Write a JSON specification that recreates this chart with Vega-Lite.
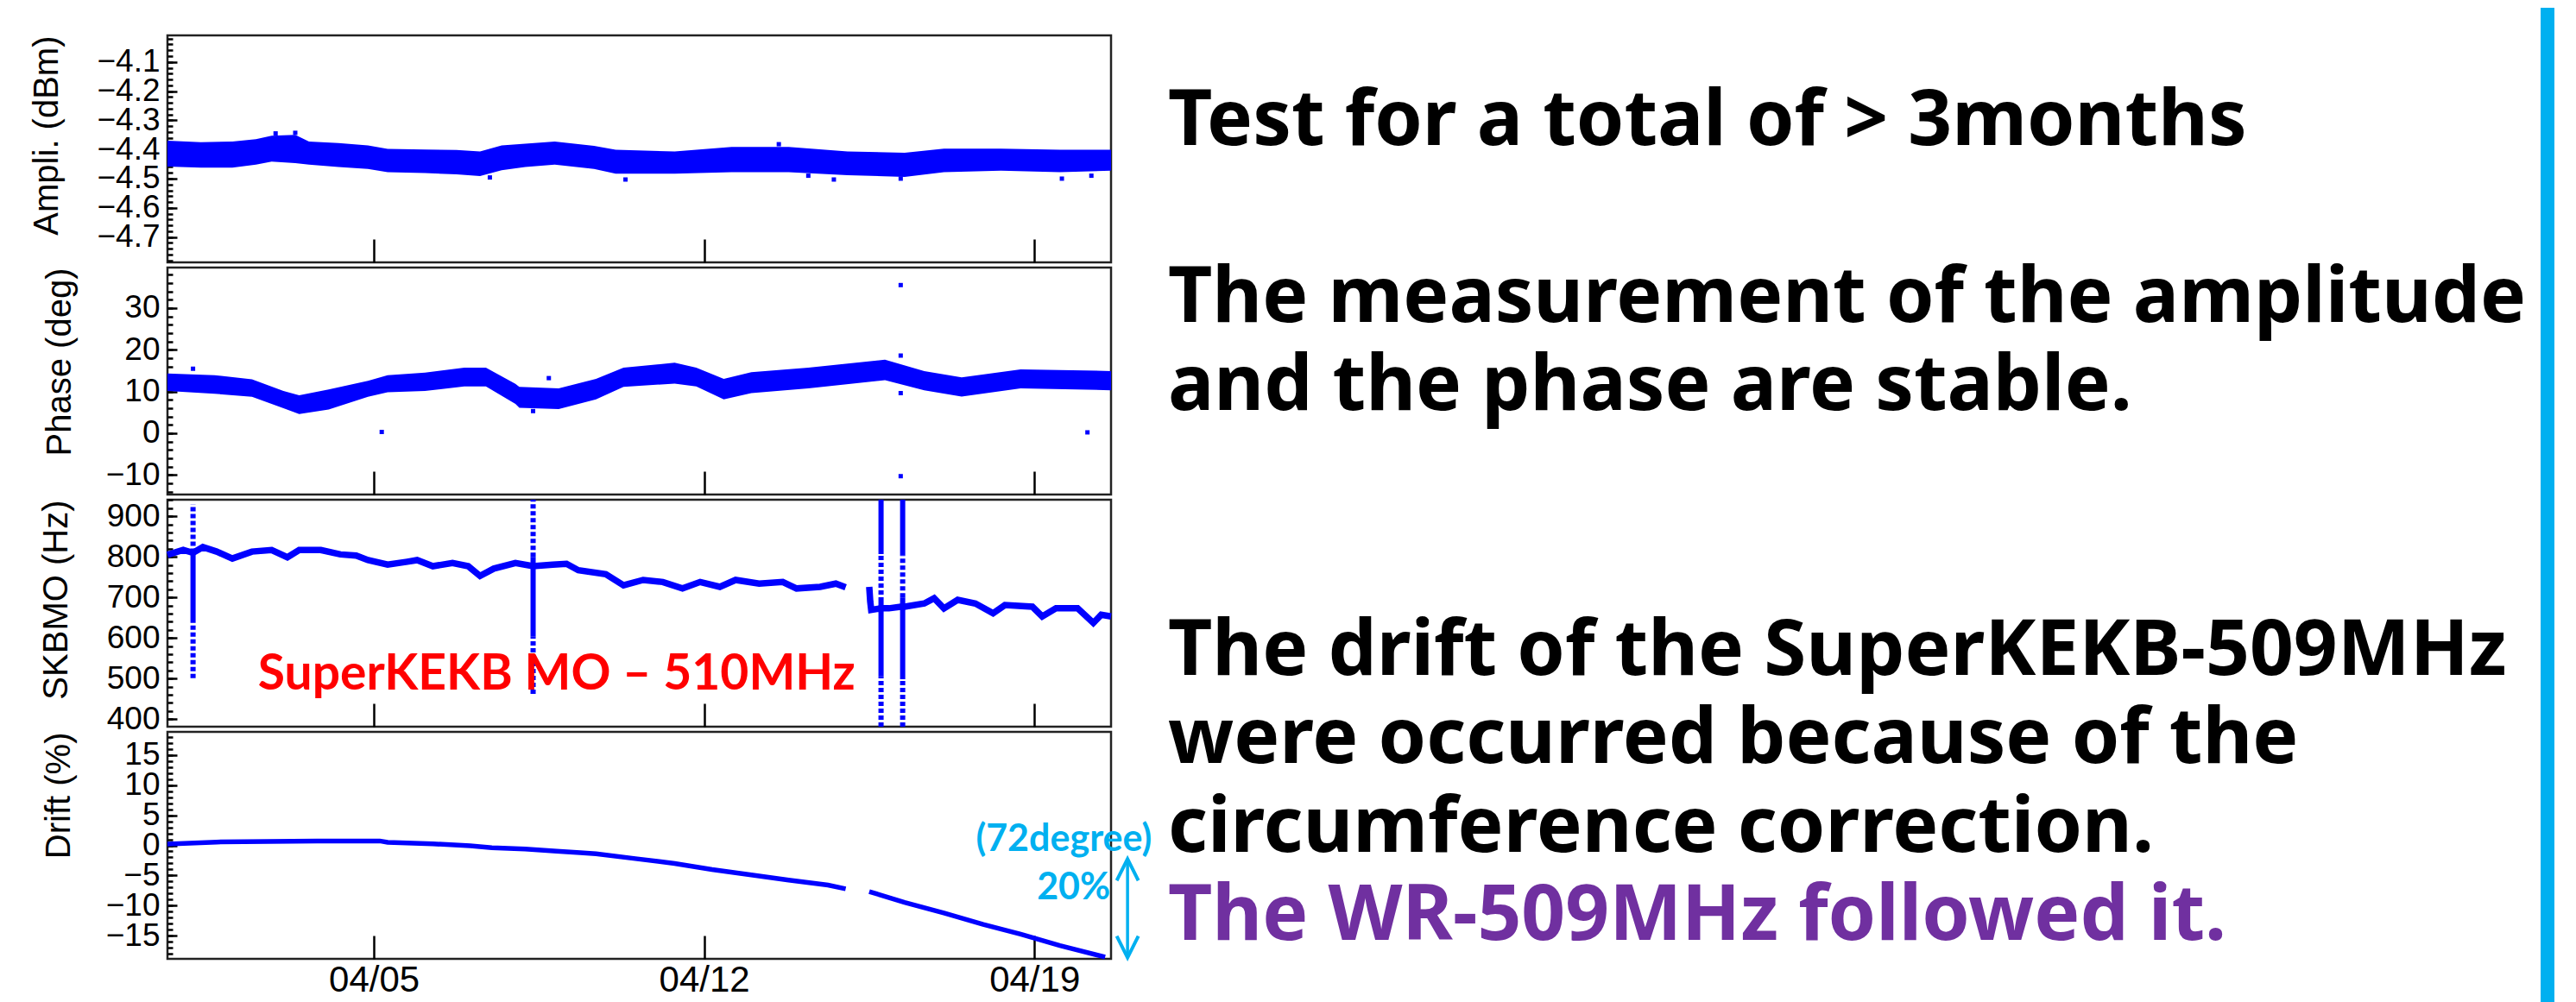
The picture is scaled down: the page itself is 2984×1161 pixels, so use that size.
{
  "$schema": "https://vega.github.io/schema/vega-lite/v6.json",
  "background": "white",
  "padding": {"left": 32, "top": 0, "right": 27, "bottom": 0},
  "bounds": "flush",
  "spacing": 1159,
  "config": {
    "view": {"stroke": "#222222", "strokeWidth": 2.5},
    "axis": {
      "domain": false, "grid": false, "tickColor": "#000000", "tickWidth": 2.5,
      "labelFont": "Liberation Sans", "labelFontSize": 37, "labelColor": "#000000", "labelOverlap": false,
      "titleFont": "Liberation Sans", "titleFontSize": 40, "titleFontWeight": "normal", "titleColor": "#000000"
    },
    "axisX": {"tickSize": -27, "labelPadding": 31, "labelFlush": false},
    "axisY": {"tickSize": -11, "labelPadding": 20, "titleAnchor": "end", "titleBaseline": "middle"}
  },
  "datasets": {
    "amp": [
      {"t": "2016-03-31T15:00", "lo": -4.459, "hi": -4.370},
      {"t": "2016-04-01T08:00", "lo": -4.462, "hi": -4.375},
      {"t": "2016-04-02T00:00", "lo": -4.462, "hi": -4.373},
      {"t": "2016-04-02T12:00", "lo": -4.452, "hi": -4.365},
      {"t": "2016-04-02T20:00", "lo": -4.442, "hi": -4.353},
      {"t": "2016-04-03T08:00", "lo": -4.447, "hi": -4.350},
      {"t": "2016-04-03T15:00", "lo": -4.452, "hi": -4.373},
      {"t": "2016-04-04T06:00", "lo": -4.460, "hi": -4.378},
      {"t": "2016-04-04T21:00", "lo": -4.467, "hi": -4.386},
      {"t": "2016-04-05T07:00", "lo": -4.478, "hi": -4.398},
      {"t": "2016-04-06T02:00", "lo": -4.481, "hi": -4.400},
      {"t": "2016-04-06T18:00", "lo": -4.485, "hi": -4.402},
      {"t": "2016-04-07T06:00", "lo": -4.491, "hi": -4.407},
      {"t": "2016-04-07T17:00", "lo": -4.471, "hi": -4.386},
      {"t": "2016-04-08T05:00", "lo": -4.460, "hi": -4.380},
      {"t": "2016-04-08T20:00", "lo": -4.452, "hi": -4.373},
      {"t": "2016-04-09T16:00", "lo": -4.467, "hi": -4.388},
      {"t": "2016-04-10T03:00", "lo": -4.483, "hi": -4.401},
      {"t": "2016-04-11T09:00", "lo": -4.483, "hi": -4.407},
      {"t": "2016-04-12T14:00", "lo": -4.478, "hi": -4.391},
      {"t": "2016-04-13T19:00", "lo": -4.478, "hi": -4.391},
      {"t": "2016-04-15T01:00", "lo": -4.488, "hi": -4.407},
      {"t": "2016-04-16T06:00", "lo": -4.494, "hi": -4.411},
      {"t": "2016-04-17T02:00", "lo": -4.478, "hi": -4.397},
      {"t": "2016-04-18T07:00", "lo": -4.473, "hi": -4.397},
      {"t": "2016-04-19T13:00", "lo": -4.478, "hi": -4.401},
      {"t": "2016-04-20T15:00", "lo": -4.473, "hi": -4.401}
    ],
    "ampOut": [
      {"t": "2016-04-02T22:00", "v": -4.345},
      {"t": "2016-04-03T08:00", "v": -4.343},
      {"t": "2016-04-07T11:00", "v": -4.496},
      {"t": "2016-04-10T08:00", "v": -4.503},
      {"t": "2016-04-13T14:00", "v": -4.382},
      {"t": "2016-04-14T05:00", "v": -4.490},
      {"t": "2016-04-14T18:00", "v": -4.503},
      {"t": "2016-04-16T04:00", "v": -4.500},
      {"t": "2016-04-19T14:00", "v": -4.500},
      {"t": "2016-04-20T05:00", "v": -4.490}
    ],
    "phase": [
      {"t": "2016-03-31T15:00", "lo": 10.1, "hi": 14.3},
      {"t": "2016-04-01T15:00", "lo": 9.45, "hi": 13.9},
      {"t": "2016-04-02T10:00", "lo": 8.75, "hi": 12.9},
      {"t": "2016-04-03T02:00", "lo": 6.0, "hi": 10.1},
      {"t": "2016-04-03T10:00", "lo": 4.6, "hi": 9.1},
      {"t": "2016-04-04T01:00", "lo": 5.65, "hi": 10.5},
      {"t": "2016-04-04T21:00", "lo": 8.75, "hi": 12.55},
      {"t": "2016-04-05T07:00", "lo": 9.8, "hi": 13.9},
      {"t": "2016-04-06T02:00", "lo": 10.1, "hi": 14.5},
      {"t": "2016-04-06T22:00", "lo": 11.2, "hi": 15.7},
      {"t": "2016-04-07T09:00", "lo": 11.2, "hi": 15.7},
      {"t": "2016-04-08T00:00", "lo": 7.0, "hi": 11.85},
      {"t": "2016-04-08T02:00", "lo": 6.1, "hi": 11.1},
      {"t": "2016-04-08T22:00", "lo": 5.8, "hi": 10.75},
      {"t": "2016-04-09T17:00", "lo": 8.1, "hi": 13.0},
      {"t": "2016-04-10T07:00", "lo": 11.1, "hi": 15.7},
      {"t": "2016-04-11T09:00", "lo": 11.9, "hi": 16.9},
      {"t": "2016-04-11T20:00", "lo": 11.2, "hi": 15.7},
      {"t": "2016-04-12T10:00", "lo": 8.1, "hi": 13.0},
      {"t": "2016-04-13T00:00", "lo": 9.6, "hi": 14.6},
      {"t": "2016-04-14T05:00", "lo": 10.75, "hi": 15.7},
      {"t": "2016-04-15T20:00", "lo": 12.7, "hi": 17.6},
      {"t": "2016-04-16T16:00", "lo": 10.3, "hi": 14.9},
      {"t": "2016-04-17T11:00", "lo": 8.8, "hi": 13.4},
      {"t": "2016-04-18T17:00", "lo": 10.75, "hi": 15.3},
      {"t": "2016-04-20T15:00", "lo": 10.3, "hi": 14.9}
    ],
    "phaseOut": [
      {"t": "2016-04-01T04:00", "v": 15.45},
      {"t": "2016-04-05T04:00", "v": 0.3},
      {"t": "2016-04-08T09:00", "v": 5.3},
      {"t": "2016-04-08T17:00", "v": 13.2},
      {"t": "2016-04-16T04:00", "v": 35.5},
      {"t": "2016-04-16T04:00", "v": 18.6},
      {"t": "2016-04-16T04:00", "v": 9.6},
      {"t": "2016-04-16T04:00", "v": -10.3},
      {"t": "2016-04-20T03:00", "v": 0.2}
    ],
    "mo": [
      {"t": "2016-03-31T15:00", "v": 805, "seg": "a"},
      {"t": "2016-03-31T23:00", "v": 817, "seg": "a"},
      {"t": "2016-04-01T04:00", "v": 810, "seg": "a"},
      {"t": "2016-04-01T09:00", "v": 824, "seg": "a"},
      {"t": "2016-04-01T16:00", "v": 813, "seg": "a"},
      {"t": "2016-04-02T00:00", "v": 796, "seg": "a"},
      {"t": "2016-04-02T10:00", "v": 813, "seg": "a"},
      {"t": "2016-04-02T20:00", "v": 817, "seg": "a"},
      {"t": "2016-04-03T04:00", "v": 799, "seg": "a"},
      {"t": "2016-04-03T10:00", "v": 817, "seg": "a"},
      {"t": "2016-04-03T21:00", "v": 817, "seg": "a"},
      {"t": "2016-04-04T07:00", "v": 806, "seg": "a"},
      {"t": "2016-04-04T15:00", "v": 803, "seg": "a"},
      {"t": "2016-04-04T21:00", "v": 792, "seg": "a"},
      {"t": "2016-04-05T07:00", "v": 781, "seg": "a"},
      {"t": "2016-04-05T17:00", "v": 788, "seg": "a"},
      {"t": "2016-04-05T22:00", "v": 792, "seg": "a"},
      {"t": "2016-04-06T06:00", "v": 777, "seg": "a"},
      {"t": "2016-04-06T16:00", "v": 785, "seg": "a"},
      {"t": "2016-04-07T00:00", "v": 777, "seg": "a"},
      {"t": "2016-04-07T06:00", "v": 753, "seg": "a"},
      {"t": "2016-04-07T13:00", "v": 771, "seg": "a"},
      {"t": "2016-04-08T00:00", "v": 785, "seg": "a"},
      {"t": "2016-04-08T09:00", "v": 777, "seg": "a"},
      {"t": "2016-04-08T19:00", "v": 781, "seg": "a"},
      {"t": "2016-04-09T02:00", "v": 783, "seg": "a"},
      {"t": "2016-04-09T08:00", "v": 767, "seg": "a"},
      {"t": "2016-04-09T22:00", "v": 757, "seg": "a"},
      {"t": "2016-04-10T07:00", "v": 730, "seg": "a"},
      {"t": "2016-04-10T17:00", "v": 743, "seg": "a"},
      {"t": "2016-04-11T03:00", "v": 738, "seg": "a"},
      {"t": "2016-04-11T13:00", "v": 722, "seg": "a"},
      {"t": "2016-04-11T22:00", "v": 738, "seg": "a"},
      {"t": "2016-04-12T08:00", "v": 726, "seg": "a"},
      {"t": "2016-04-12T16:00", "v": 743, "seg": "a"},
      {"t": "2016-04-13T04:00", "v": 734, "seg": "a"},
      {"t": "2016-04-13T16:00", "v": 738, "seg": "a"},
      {"t": "2016-04-13T23:00", "v": 722, "seg": "a"},
      {"t": "2016-04-14T11:00", "v": 726, "seg": "a"},
      {"t": "2016-04-14T19:00", "v": 734, "seg": "a"},
      {"t": "2016-04-15T00:00", "v": 725, "seg": "a"},
      {"t": "2016-04-15T12:00", "v": 726, "seg": "b"},
      {"t": "2016-04-15T12:30", "v": 690, "seg": "b"},
      {"t": "2016-04-15T13:00", "v": 669, "seg": "b"},
      {"t": "2016-04-15T18:00", "v": 673, "seg": "b"},
      {"t": "2016-04-15T22:00", "v": 673, "seg": "b"},
      {"t": "2016-04-16T04:00", "v": 677, "seg": "b"},
      {"t": "2016-04-16T06:00", "v": 677, "seg": "b"},
      {"t": "2016-04-16T16:00", "v": 685, "seg": "b"},
      {"t": "2016-04-16T21:00", "v": 698, "seg": "b"},
      {"t": "2016-04-17T02:00", "v": 673, "seg": "b"},
      {"t": "2016-04-17T09:00", "v": 694, "seg": "b"},
      {"t": "2016-04-17T18:00", "v": 685, "seg": "b"},
      {"t": "2016-04-18T03:00", "v": 661, "seg": "b"},
      {"t": "2016-04-18T09:00", "v": 681, "seg": "b"},
      {"t": "2016-04-18T23:00", "v": 677, "seg": "b"},
      {"t": "2016-04-19T04:00", "v": 653, "seg": "b"},
      {"t": "2016-04-19T11:00", "v": 673, "seg": "b"},
      {"t": "2016-04-19T22:00", "v": 673, "seg": "b"},
      {"t": "2016-04-20T06:00", "v": 637, "seg": "b"},
      {"t": "2016-04-20T10:00", "v": 657, "seg": "b"},
      {"t": "2016-04-20T15:00", "v": 653, "seg": "b"}
    ],
    "spikes": [
      {"t": "2016-04-01T04:00", "lo": 810, "hi": 930, "part": "dotted"},
      {"t": "2016-04-01T04:00", "lo": 643, "hi": 810, "part": "solid"},
      {"t": "2016-04-01T04:00", "lo": 501, "hi": 643, "part": "dotted"},
      {"t": "2016-04-08T09:00", "lo": 800, "hi": 941, "part": "dotted"},
      {"t": "2016-04-08T09:00", "lo": 604, "hi": 800, "part": "solid"},
      {"t": "2016-04-08T09:00", "lo": 462, "hi": 604, "part": "dotted"},
      {"t": "2016-04-15T18:00", "lo": 807, "hi": 941, "part": "solid"},
      {"t": "2016-04-15T18:00", "lo": 690, "hi": 807, "part": "dotted"},
      {"t": "2016-04-15T18:00", "lo": 505, "hi": 690, "part": "solid"},
      {"t": "2016-04-15T18:00", "lo": 381, "hi": 505, "part": "dotted"},
      {"t": "2016-04-16T05:00", "lo": 803, "hi": 941, "part": "solid"},
      {"t": "2016-04-16T05:00", "lo": 700, "hi": 803, "part": "dotted"},
      {"t": "2016-04-16T05:00", "lo": 498, "hi": 700, "part": "solid"},
      {"t": "2016-04-16T05:00", "lo": 381, "hi": 498, "part": "dotted"}
    ],
    "moLabel": [
      {"t": "2016-04-02T13:00", "v": 473, "text": "SuperKEKB MO – 510MHz"}
    ],
    "drift": [
      {"t": "2016-03-31T15:00", "v": 0.2, "seg": "a"},
      {"t": "2016-04-01T16:00", "v": 0.55, "seg": "a"},
      {"t": "2016-04-03T19:00", "v": 0.73, "seg": "a"},
      {"t": "2016-04-05T03:00", "v": 0.73, "seg": "a"},
      {"t": "2016-04-05T07:00", "v": 0.5, "seg": "a"},
      {"t": "2016-04-06T06:00", "v": 0.26, "seg": "a"},
      {"t": "2016-04-07T01:00", "v": -0.08, "seg": "a"},
      {"t": "2016-04-07T12:00", "v": -0.4, "seg": "a"},
      {"t": "2016-04-08T05:00", "v": -0.6, "seg": "a"},
      {"t": "2016-04-08T21:00", "v": -0.95, "seg": "a"},
      {"t": "2016-04-09T09:00", "v": -1.2, "seg": "a"},
      {"t": "2016-04-09T17:00", "v": -1.4, "seg": "a"},
      {"t": "2016-04-10T13:00", "v": -2.2, "seg": "a"},
      {"t": "2016-04-11T09:00", "v": -3.0, "seg": "a"},
      {"t": "2016-04-12T04:00", "v": -4.0, "seg": "a"},
      {"t": "2016-04-13T00:00", "v": -4.9, "seg": "a"},
      {"t": "2016-04-13T19:00", "v": -5.76, "seg": "a"},
      {"t": "2016-04-14T15:00", "v": -6.57, "seg": "a"},
      {"t": "2016-04-15T00:00", "v": -7.2, "seg": "a"},
      {"t": "2016-04-15T12:00", "v": -7.66, "seg": "b"},
      {"t": "2016-04-16T06:00", "v": -9.45, "seg": "b"},
      {"t": "2016-04-17T02:00", "v": -11.2, "seg": "b"},
      {"t": "2016-04-17T22:00", "v": -13.1, "seg": "b"},
      {"t": "2016-04-18T17:00", "v": -14.7, "seg": "b"},
      {"t": "2016-04-19T13:00", "v": -16.6, "seg": "b"},
      {"t": "2016-04-20T12:00", "v": -18.5, "seg": "b"}
    ],
    "driftNotes": [
      {"t": "2016-04-19T15:00", "v": -0.97, "text": "(72degree)"},
      {"t": "2016-04-19T20:00", "v": -8.94, "text": "20%"}
    ],
    "arrow": [
      {"t": "2016-04-20T23:24", "top": -2.25, "bottom": -18.6}
    ],
    "arrowHeads": [
      {"t": "2016-04-20T23:24", "v": -2.25, "dir": "up"},
      {"t": "2016-04-20T23:24", "v": -18.6, "dir": "down"}
    ],
    "notes": [
      {"line": 0, "text": "Test for a total of > 3months", "tone": "main"},
      {"line": 2, "text": "The measurement of the amplitude", "tone": "main"},
      {"line": 3, "text": "and the phase are stable.", "tone": "main"},
      {"line": 6, "text": "The drift of the SuperKEKB-509MHz", "tone": "main"},
      {"line": 7, "text": "were occurred because of the", "tone": "main"},
      {"line": 8, "text": "circumference correction.", "tone": "main"},
      {"line": 9, "text": "The WR-509MHz followed it.", "tone": "wr"}
    ]
  },
  "hconcat": [
    {
      "bounds": "flush",
      "spacing": 6,
      "vconcat": [
        {
          "width": 1093, "height": 263,
          "layer": [
            {
              "data": {"name": "amp"},
              "mark": {"type": "area", "color": "#0000ff", "opacity": 1},
              "encoding": {
                "x": {"field": "t", "type": "temporal",
                  "scale": {"domain": [{"year": 2016, "month": 3, "date": 31, "hours": 15}, {"year": 2016, "month": 4, "date": 20, "hours": 15}]},
                  "axis": {"values": [{"year": 2016, "month": 4, "date": 5}, {"year": 2016, "month": 4, "date": 12}, {"year": 2016, "month": 4, "date": 19}], "labels": false, "title": null}},
                "y": {"field": "lo", "type": "quantitative", "scale": {"domain": [-4.787, -4.009], "nice": false},
                  "axis": {"title": "Ampli. (dBm)", "titleX": -140, "format": ".1f", "values": [-4.7, -4.6, -4.5, -4.4, -4.3, -4.2, -4.1]}},
                "y2": {"field": "hi"}
              }
            },
            {
              "data": {"name": "ampOut"},
              "mark": {"type": "square", "size": 25, "color": "#0000ff", "opacity": 1},
              "encoding": {
                "x": {"field": "t", "type": "temporal"},
                "y": {"field": "v", "type": "quantitative",
                  "axis": {"orient": "left", "labels": false, "title": null, "tickSize": -6,
                    "values": [-4.78, -4.76, -4.74, -4.72, -4.7, -4.68, -4.66, -4.64, -4.62, -4.6, -4.58, -4.56, -4.54, -4.52, -4.5, -4.48, -4.46, -4.44, -4.42, -4.4, -4.38, -4.36, -4.34, -4.32, -4.3, -4.28, -4.26, -4.24, -4.22, -4.2, -4.18, -4.16, -4.14, -4.12, -4.1, -4.08, -4.06, -4.04, -4.02]}}
              }
            }
          ],
          "resolve": {"axis": {"y": "independent"}}
        },
        {
          "width": 1093, "height": 263,
          "layer": [
            {
              "data": {"name": "phase"},
              "mark": {"type": "area", "color": "#0000ff", "opacity": 1},
              "encoding": {
                "x": {"field": "t", "type": "temporal",
                  "scale": {"domain": [{"year": 2016, "month": 3, "date": 31, "hours": 15}, {"year": 2016, "month": 4, "date": 20, "hours": 15}]},
                  "axis": {"values": [{"year": 2016, "month": 4, "date": 5}, {"year": 2016, "month": 4, "date": 12}, {"year": 2016, "month": 4, "date": 19}], "labels": false, "title": null}},
                "y": {"field": "lo", "type": "quantitative", "scale": {"domain": [-14.7, 39.7], "nice": false},
                  "axis": {"title": "Phase (deg)", "titleX": -125, "format": "d", "values": [-10, 0, 10, 20, 30]}},
                "y2": {"field": "hi"}
              }
            },
            {
              "data": {"name": "phaseOut"},
              "mark": {"type": "square", "size": 25, "color": "#0000ff", "opacity": 1},
              "encoding": {
                "x": {"field": "t", "type": "temporal"},
                "y": {"field": "v", "type": "quantitative",
                  "axis": {"orient": "left", "labels": false, "title": null, "tickSize": -6,
                    "values": [-14, -12, -10, -8, -6, -4, -2, 0, 2, 4, 6, 8, 10, 12, 14, 16, 18, 20, 22, 24, 26, 28, 30, 32, 34, 36, 38]}}
              }
            }
          ],
          "resolve": {"axis": {"y": "independent"}}
        },
        {
          "width": 1093, "height": 263,
          "layer": [
            {
              "data": {"name": "mo"},
              "mark": {"type": "line", "color": "#0000ff", "strokeWidth": 7.5, "strokeJoin": "miter"},
              "encoding": {
                "x": {"field": "t", "type": "temporal",
                  "scale": {"domain": [{"year": 2016, "month": 3, "date": 31, "hours": 15}, {"year": 2016, "month": 4, "date": 20, "hours": 15}]},
                  "axis": {"values": [{"year": 2016, "month": 4, "date": 5}, {"year": 2016, "month": 4, "date": 12}, {"year": 2016, "month": 4, "date": 19}], "labels": false, "title": null}},
                "y": {"field": "v", "type": "quantitative", "scale": {"domain": [381, 941], "nice": false},
                  "axis": {"title": "SKBMO (Hz)", "titleX": -129, "format": "d", "values": [400, 500, 600, 700, 800, 900]}},
                "detail": {"field": "seg"}
              }
            },
            {
              "data": {"name": "spikes"},
              "mark": {"type": "rule", "color": "#0000ff", "strokeWidth": 6, "strokeCap": "butt"},
              "encoding": {
                "x": {"field": "t", "type": "temporal"},
                "y": {"field": "lo", "type": "quantitative",
                  "axis": {"orient": "left", "labels": false, "title": null, "tickSize": -6,
                    "values": [400, 420, 440, 460, 480, 500, 520, 540, 560, 580, 600, 620, 640, 660, 680, 700, 720, 740, 760, 780, 800, 820, 840, 860, 880, 900, 920, 940]}},
                "y2": {"field": "hi"},
                "strokeDash": {"field": "part", "type": "nominal", "scale": {"domain": ["solid", "dotted"], "range": [[1, 0], [5, 3]]}, "legend": null}
              }
            },
            {
              "data": {"name": "moLabel"},
              "mark": {"type": "text", "align": "left", "baseline": "alphabetic", "font": "Lato", "fontWeight": "bold", "fontSize": 57, "color": "#ff0000"},
              "encoding": {
                "x": {"field": "t", "type": "temporal"},
                "y": {"field": "v", "type": "quantitative", "axis": null},
                "text": {"field": "text"}
              }
            }
          ],
          "resolve": {"axis": {"y": "independent"}}
        },
        {
          "width": 1093, "height": 263,
          "layer": [
            {
              "data": {"name": "drift"},
              "mark": {"type": "line", "color": "#0000ff", "strokeWidth": 5.5},
              "encoding": {
                "x": {"field": "t", "type": "temporal",
                  "scale": {"domain": [{"year": 2016, "month": 3, "date": 31, "hours": 15}, {"year": 2016, "month": 4, "date": 20, "hours": 15}]},
                  "axis": {"values": [{"year": 2016, "month": 4, "date": 5}, {"year": 2016, "month": 4, "date": 12}, {"year": 2016, "month": 4, "date": 19}], "labels": true, "format": "%m/%d", "title": null, "labelFontSize": 42}},
                "y": {"field": "v", "type": "quantitative", "scale": {"domain": [-18.8, 18.8], "nice": false},
                  "axis": {"title": "Drift (%)", "titleX": -126, "format": "d", "values": [-15, -10, -5, 0, 5, 10, 15]}},
                "detail": {"field": "seg"}
              }
            },
            {
              "data": {"name": "arrow"},
              "mark": {"type": "rule", "color": "#00b0f0", "strokeWidth": 3.5},
              "encoding": {
                "x": {"field": "t", "type": "temporal"},
                "y": {"field": "top", "type": "quantitative",
                  "axis": {"orient": "left", "labels": false, "title": null, "tickSize": -6,
                    "values": [-18, -17, -16, -15, -14, -13, -12, -11, -10, -9, -8, -7, -6, -5, -4, -3, -2, -1, 0, 1, 2, 3, 4, 5, 6, 7, 8, 9, 10, 11, 12, 13, 14, 15, 16, 17, 18]}},
                "y2": {"field": "bottom"}
              }
            },
            {
              "data": {"name": "arrowHeads"},
              "mark": {"type": "point", "filled": false, "size": 625, "color": "#00b0f0", "strokeWidth": 4, "opacity": 1},
              "encoding": {
                "x": {"field": "t", "type": "temporal"},
                "y": {"field": "v", "type": "quantitative", "axis": null},
                "shape": {"field": "dir", "type": "nominal", "scale": {"domain": ["up", "down"], "range": ["M-1,2L0,0L1,2", "M-1,-2L0,0L1,-2"]}, "legend": null}
              }
            },
            {
              "data": {"name": "driftNotes"},
              "mark": {"type": "text", "align": "center", "baseline": "alphabetic", "font": "Lato", "fontWeight": "bold", "fontSize": 43, "color": "#00b0f0"},
              "encoding": {
                "x": {"field": "t", "type": "temporal"},
                "y": {"field": "v", "type": "quantitative", "axis": null},
                "text": {"field": "text"}
              }
            }
          ],
          "resolve": {"axis": {"y": "independent"}}
        }
      ]
    },
    {
      "width": 1598, "height": 1071,
      "view": {"stroke": null},
      "layer": [
        {
          "data": {"name": "notes"},
          "mark": {"type": "text", "align": "left", "baseline": "alphabetic", "font": "Noto Sans", "fontWeight": "bold", "fontSize": 89},
          "encoding": {
            "x": {"datum": 0, "type": "quantitative", "scale": {"domain": [0, 1], "nice": false}, "axis": null},
            "y": {"field": "line", "type": "quantitative", "scale": {"domain": [-1.241, 9.225], "nice": false, "zero": false, "reverse": true}, "axis": null},
            "text": {"field": "text"},
            "color": {"field": "tone", "type": "nominal", "scale": {"domain": ["main", "wr"], "range": ["#000000", "#7030a0"]}, "legend": null}
          }
        },
        {
          "data": {"values": [{}]},
          "mark": {"type": "rule", "color": "#00b0f0", "strokeWidth": 16, "strokeCap": "butt"},
          "encoding": {
            "x": {"datum": 1, "type": "quantitative"},
            "y": {"datum": -1.554, "type": "quantitative"},
            "y2": {"datum": 9.792}
          }
        }
      ]
    }
  ]
}
